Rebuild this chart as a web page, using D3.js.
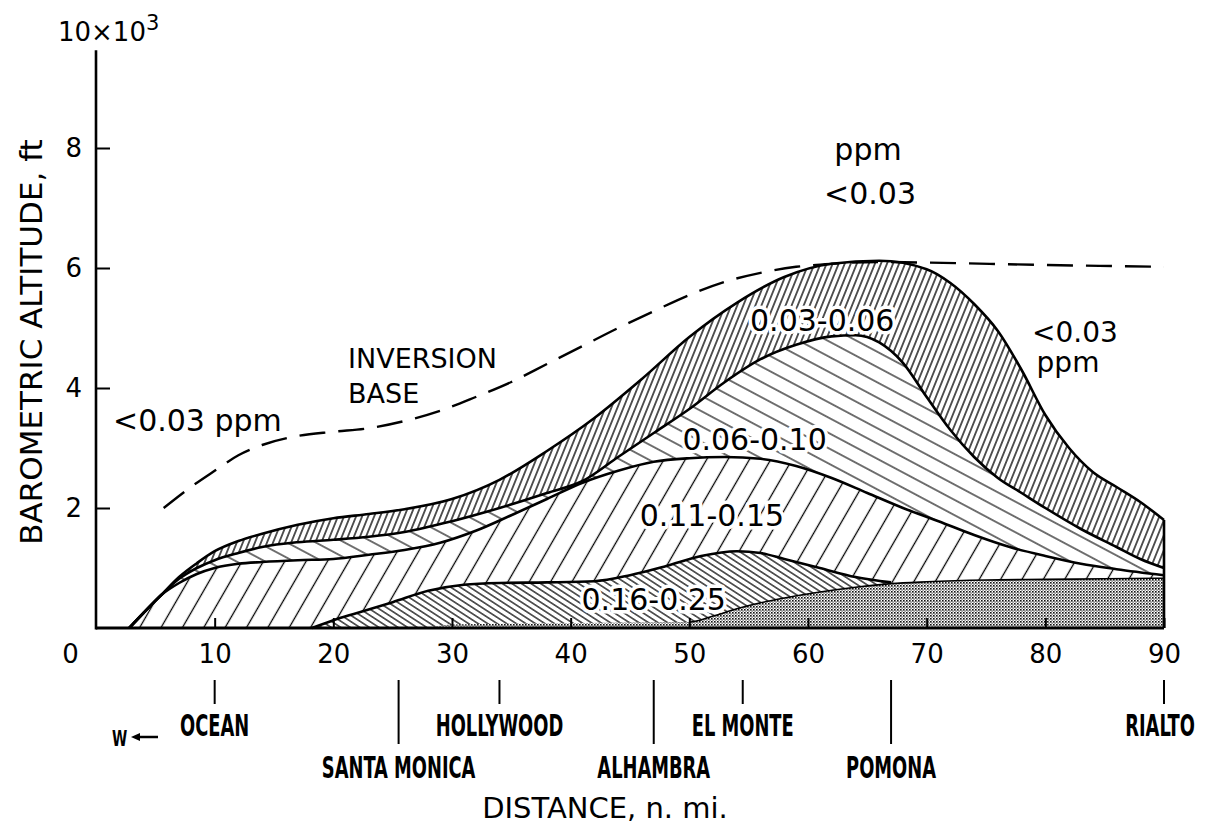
<!DOCTYPE html>
<html><head><meta charset="utf-8">
<script src="https://cdn.jsdelivr.net/npm/d3@7"></script>
<style>body{margin:0;background:#fff}</style></head>
<body>
<svg id="c" width="1205" height="830"></svg>
<script>
// ---------- data (distance n. mi., altitude 10^3 ft) ----------
const xTicks = [0,10,20,30,40,50,60,70,80,90];
const yTicks = [2,4,6,8];
const inversionBase = [[5.7,2.0],[8,2.35],[10,2.62],[12,2.88],[14,3.05],[17,3.2],[20,3.27],[23,3.33],[26,3.45],[29,3.62],[32,3.85],[35,4.1],[38,4.4],[41,4.7],[44,5.0],[47,5.28],[50,5.55],[53,5.77],[56,5.92],[59,6.02],[62,6.07],[66,6.1],[70,6.09],[80,6.05],[90,6.02]];
const top003 = [[2.8,0],[4,0.25],[5.5,0.55],[7,0.85],[8.5,1.08],[10,1.28],[12,1.45],[14,1.57],[17,1.72],[20,1.83],[23,1.9],[26,1.98],[30,2.15],[34,2.47],[38,2.95],[42,3.5],[46,4.15],[50,4.85],[54,5.42],[58,5.85],[62,6.07],[66,6.12],[70,5.98],[72,5.75],[74,5.4],[76,4.95],[78,4.3],[80,3.55],[82,3.0],[84,2.6],[86,2.35],[88,2.1],[90,1.8]];
const top006 = [[2.8,0],[4,0.25],[5.5,0.55],[7,0.82],[8.5,1.0],[10,1.13],[12,1.25],[14,1.35],[17,1.43],[20,1.47],[23,1.52],[26,1.6],[30,1.78],[34,2.0],[38,2.25],[41,2.45],[44,2.85],[47,3.25],[50,3.65],[53,4.1],[56,4.48],[59,4.72],[62,4.86],[64,4.88],[66,4.76],[68,4.42],[70,3.85],[72,3.3],[74,2.85],[76,2.5],[78,2.25],[80,2.0],[83,1.65],[86,1.35],[88,1.15],[90,1.0]];
const top011 = [[2.8,0],[4,0.25],[5.5,0.55],[7,0.75],[8.5,0.9],[10,1.0],[12,1.07],[14,1.1],[17,1.13],[20,1.15],[23,1.22],[26,1.3],[29,1.42],[32,1.62],[35,1.88],[38,2.15],[41,2.42],[44,2.62],[47,2.77],[50,2.83],[53,2.85],[56,2.82],[59,2.7],[62,2.5],[65,2.25],[68,2.0],[71,1.78],[74,1.55],[77,1.35],[80,1.2],[83,1.07],[86,0.98],[90,0.88]];
const top016 = [[18.2,0],[20,0.13],[22,0.25],[25,0.43],[28,0.62],[31,0.72],[34,0.75],[38,0.76],[42,0.78],[45,0.88],[48,1.03],[51,1.2],[54,1.28],[56,1.25],[58,1.15],[61,1.0],[64,0.85],[67,0.76]];
const stipple = [[28,0],[30,0.06],[40,0.08],[50,0.1],[50.01,0.1],[52,0.2],[54,0.32],[56,0.42],[58,0.5],[61,0.6],[64,0.68],[67,0.74],[70,0.77],[75,0.8],[80,0.81],[85,0.82],[90,0.83]];
const towns    = ["OCEAN","SANTA MONICA","HOLLYWOOD","ALHAMBRA","EL MONTE","POMONA","RIALTO"];
const townDist = [10,25.5,34,47,54.5,67,90];
const townRow  = [0,1,0,1,0,1,0];
const bandLabels = ["0.03-0.06","0.06-0.10","0.11-0.15","0.16-0.25"];
const bandLabelPos = [[61.2,4.95],[55.5,2.97],[51.9,1.7],[47,0.3]];

// ---------- setup ----------
const svg = d3.select('#c');
const x = d3.scaleLinear().domain([0,90]).range([96,1164]);
const y = d3.scaleLinear().domain([0,10]).range([628,28]);
const FONT = "'DejaVu Sans', 'Noto Sans', sans-serif";
const COND = "'DejaVu Sans Condensed','Liberation Sans Narrow','DejaVu Sans',sans-serif";

const defs = svg.append('defs');
function hatch(id, spacing, angle, sw){
  const p = defs.append('pattern').attr('id',id).attr('patternUnits','userSpaceOnUse')
    .attr('width',spacing).attr('height',spacing).attr('patternTransform',`rotate(${angle})`);
  p.append('rect').attr('width',spacing).attr('height',spacing).attr('fill','#fff');
  p.append('line').attr('x1',spacing/2).attr('x2',spacing/2).attr('y1',0).attr('y2',spacing)
    .attr('stroke','#000').attr('stroke-width',sw);
}
hatch('h003', 5.6, 22, 1.3);
hatch('h006', 13.5, -62, 1.1);
hatch('h011', 18.5, 30, 1.3);
hatch('h016', 5.2, -57, 1.2);
const st = defs.append('pattern').attr('id','stip').attr('patternUnits','userSpaceOnUse').attr('width',3).attr('height',3);
st.append('rect').attr('width',3).attr('height',3).attr('fill','#fff');
st.append('rect').attr('x',0).attr('y',0).attr('width',1.6).attr('height',1.6).attr('fill','#111');
st.append('rect').attr('x',1.5).attr('y',1.5).attr('width',1.2).attr('height',1.2).attr('fill','#333');

const area = d3.area().x(d=>x(d[0])).y0(y(0)).y1(d=>y(d[1])).curve(d3.curveMonotoneX);
const line = d3.line().x(d=>x(d[0])).y(d=>y(d[1])).curve(d3.curveMonotoneX);

const layers = [[top003,'h003'],[top006,'h006'],[top011,'h011'],[top016,'h016'],[stipple,'stip']];
layers.forEach(([data,pid])=>{
  svg.append('path').datum(data).attr('d',area).attr('fill',`url(#${pid})`);
});
// boundaries
[top003,top006,top011,top016].forEach(data=>{
  svg.append('path').datum(data).attr('d',line).attr('fill','none').attr('stroke','#000').attr('stroke-width',2.6);
});
svg.append('path').datum(stipple.filter(d=>d[0]>=50)).attr('d',line).attr('fill','none').attr('stroke','#000').attr('stroke-width',1.6);
// vertical edges
svg.append('line').attr('x1',x(90)).attr('x2',x(90)).attr('y1',y(0)).attr('y2',y(top003[top003.length-1][1])).attr('stroke','#000').attr('stroke-width',2.6);
svg.append('line').attr('x1',x(50)).attr('x2',x(50)).attr('y1',y(0)).attr('y2',y(0.1)).attr('stroke','#000').attr('stroke-width',1);

// inversion base
svg.append('path').datum(inversionBase).attr('d',line).attr('fill','none').attr('stroke','#000')
  .attr('stroke-width',2.4).attr('stroke-dasharray','26,13');

// ---------- axes ----------
const xAxis = svg.append('g').attr('transform',`translate(0,${y(0)})`)
  .call(d3.axisBottom(x).tickValues(xTicks).tickSize(-10).tickPadding(22).tickFormat(d3.format('d')));
xAxis.select('.domain').remove();
xAxis.selectAll('.tick line').attr('stroke','#000').attr('stroke-width',2);
xAxis.selectAll('.tick text').attr('font-family',FONT).attr('font-size',26).attr('fill','#000')
  .attr('dy','0.5em');
xAxis.selectAll('.tick').filter(d=>d===0).select('text').attr('x',-26);
xAxis.selectAll('.tick').filter(d=>d===0).select('line').remove();
svg.append('line').attr('x1',x(0)).attr('x2',x(90)).attr('y1',y(0)).attr('y2',y(0)).attr('stroke','#000').attr('stroke-width',3.2);

const yAxis = svg.append('g').attr('transform',`translate(${x(0)},0)`)
  .call(d3.axisLeft(y).tickValues(yTicks).tickSize(-14).tickPadding(14).tickFormat(d3.format('d')));
yAxis.select('.domain').remove();
yAxis.selectAll('.tick line').attr('stroke','#000').attr('stroke-width',2);
yAxis.selectAll('.tick text').attr('font-family',FONT).attr('font-size',26).attr('fill','#000');
svg.append('line').attr('x1',x(0)).attr('x2',x(0)).attr('y1',y(0)+1.5).attr('y2',y(9.63)).attr('stroke','#000').attr('stroke-width',2.6);

// axis titles
const t10 = svg.append('text').attr('x',58).attr('y',41).attr('font-family',FONT).attr('font-size',26).text('10×10');
t10.append('tspan').attr('dy',-11).attr('font-size',21).text('3');
svg.append('text').attr('transform',`translate(42,${342}) rotate(-90)`).attr('text-anchor','middle')
  .attr('font-family',FONT).attr('font-size',31).text('BAROMETRIC ALTITUDE, ft');
svg.append('text').attr('x',605).attr('y',818).attr('text-anchor','middle')
  .attr('font-family',FONT).attr('font-size',29).text('DISTANCE, n. mi.');

// town markers
const rowBase = [736,778];
const rowTickEnd = [704,744];
towns.forEach((t,i)=>{
  const r = townRow[i];
  const last = i === towns.length-1;
  svg.append('line').attr('x1',x(townDist[i])).attr('x2',x(townDist[i])).attr('y1',680).attr('y2',rowTickEnd[r])
    .attr('stroke','#000').attr('stroke-width',2);
  const cx = last ? x(townDist[i]) - 4 : x(townDist[i]);
  svg.append('text').attr('transform',`translate(${cx},${rowBase[r]}) scale(0.64,1)`)
    .attr('text-anchor','middle')
    .attr('font-family',COND).attr('font-weight','bold').attr('font-size',31).text(t);
});
svg.append('text').attr('transform','translate(112,746) scale(0.7,1)').attr('font-family',COND).attr('font-weight','bold').attr('font-size',22).text('W');
svg.append('line').attr('x1',136).attr('x2',158).attr('y1',737).attr('y2',737).attr('stroke','#000').attr('stroke-width',2.5);
svg.append('path').attr('d','M131,737 L140,733 L140,741 Z').attr('fill','#000');

// annotations
const ann = (txt,xx,yy,fs,anchor)=>svg.append('text').attr('x',xx).attr('y',yy).attr('text-anchor',anchor||'start')
  .attr('font-family',FONT).attr('font-size',fs).text(txt);
ann('<0.03 ppm',113,431,30);
ann('INVERSION',348,368,27);
ann('BASE',348,403,27);
ann('ppm',868,160,30,'middle');
ann('<0.03',870,204,30,'middle');
ann('<0.03',1075,342,28,'middle');
ann('ppm',1068,372,28,'middle');
bandLabels.forEach((t,i)=>{
  svg.append('text').attr('x',x(bandLabelPos[i][0])).attr('y',y(bandLabelPos[i][1])).attr('text-anchor','middle')
    .attr('font-family',FONT).attr('font-size',30)
    .attr('stroke','#fff').attr('stroke-width',7).attr('paint-order','stroke').attr('stroke-linejoin','round')
    .text(t);
});
</script>
</body></html>
